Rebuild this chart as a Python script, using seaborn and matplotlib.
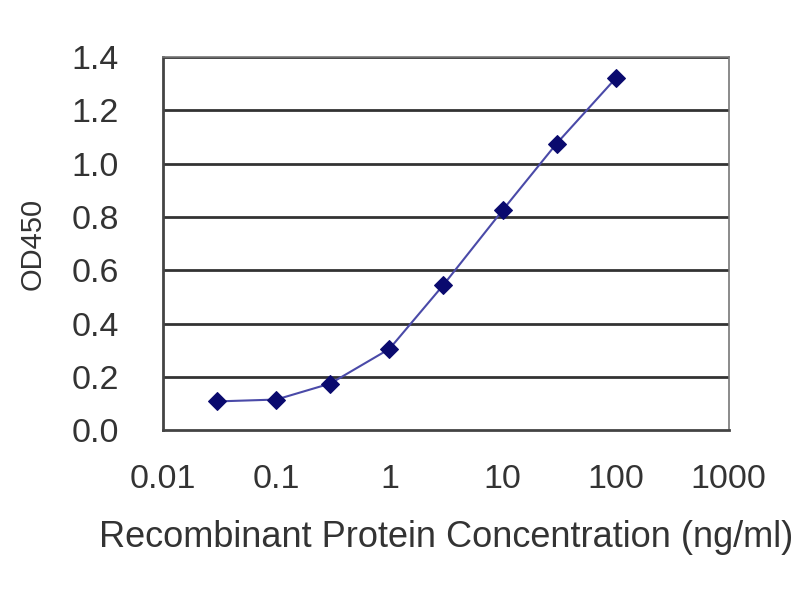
import matplotlib
matplotlib.use('Agg')
import matplotlib.pyplot as plt
import matplotlib.ticker as mticker
import pandas as pd
import seaborn as sns

# Data
concentration = [0.03, 0.1, 0.3, 1, 3, 10, 30, 100]
od450 = [0.108, 0.115, 0.175, 0.305, 0.545, 0.825, 1.075, 1.32]
x_ticks = [0.01, 0.1, 1, 10, 100, 1000]
x_tick_labels = ['0.01', '0.1', '1', '10', '100', '1000']
y_ticks = [0.0, 0.2, 0.4, 0.6, 0.8, 1.0, 1.2, 1.4]

df = pd.DataFrame({'conc': concentration, 'od': od450})

sns.set_style('white')
plt.rcParams['font.family'] = ['Liberation Sans', 'DejaVu Sans']

fig = plt.figure(figsize=(8, 6), dpi=100)
ax = fig.add_axes([0.204, 0.283, 0.707, 0.622])

# horizontal grid lines
for y in y_ticks[1:]:
    ax.axhline(y, color='#333333', lw=2, zorder=1)

sns.lineplot(data=df, x='conc', y='od', ax=ax, color='#4a4aa8', lw=1.5,
             marker='D', markersize=9, markerfacecolor='#0a0a6e',
             markeredgecolor='#0a0a6e', zorder=3)

ax.set_xscale('log')
ax.set_xlim(0.01, 1000)
ax.set_ylim(0, 1.4)
ax.set_xticks(x_ticks)
ax.set_xticklabels(x_tick_labels)
ax.xaxis.set_minor_locator(mticker.NullLocator())
ax.set_yticks(y_ticks)
ax.set_yticklabels([f'{v:.1f}' for v in y_ticks])

ax.tick_params(axis='x', direction='in', length=5, width=1.2, color='#444444',
               labelsize=24.5, pad=24, labelcolor='#333333')
ax.tick_params(axis='y', direction='out', length=3, width=1.2, color='#444444',
               labelsize=24.5, pad=29, labelcolor='#333333')

for side in ['left', 'bottom']:
    ax.spines[side].set_color('#444444')
    ax.spines[side].set_linewidth(2)
for side in ['top', 'right']:
    ax.spines[side].set_color('#777777')
    ax.spines[side].set_linewidth(1.2)

ax.set_xlabel('Recombinant Protein Concentration (ng/ml)', fontsize=26,
              color='#333333', labelpad=18)
ax.set_ylabel('OD450', fontsize=21, color='#333333', labelpad=18)

fig.savefig('out.png', dpi=100, facecolor='white')
